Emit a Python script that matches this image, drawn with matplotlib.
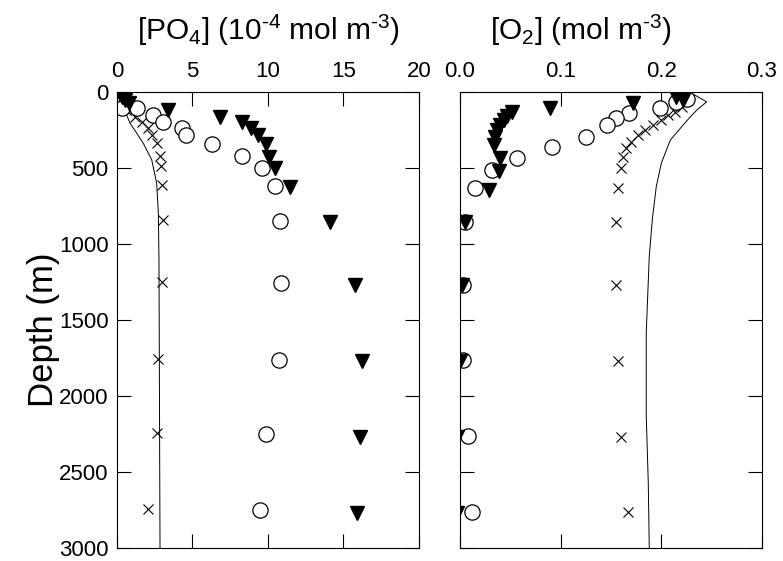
import numpy as np
import matplotlib
matplotlib.use("Agg")
import matplotlib.pyplot as plt

plt.rcParams['font.family'] = ['Liberation Sans', 'DejaVu Sans']
plt.rcParams['mathtext.fontset'] = 'custom'
plt.rcParams['mathtext.rm'] = 'Liberation Sans'
plt.rcParams['mathtext.it'] = 'Liberation Sans'

# ---- PO4 panel (10^-4 mol m^-3) ----
po4_tri_z = [10, 30, 50, 75, 120, 165, 200, 238, 282, 341, 425, 500, 624, 858, 1267, 1771, 2267, 2771]
po4_tri = [0.2, 0.3, 0.5, 0.8, 3.4, 6.8, 8.25, 8.9, 9.35, 9.9, 10.1, 10.45, 11.45, 14.1, 15.76, 16.2, 16.1, 15.9]
po4_circ_z = [105, 107, 151, 195, 238, 282, 343, 420, 501, 621, 847, 1256, 1760, 2252, 2751]
po4_circ = [0.3, 1.3, 2.4, 3.07, 4.28, 4.57, 6.27, 8.26, 9.58, 10.46, 10.8, 10.84, 10.7, 9.87, 9.47]
po4_x_z = [120, 162, 195, 238, 282, 337, 420, 490, 615, 840, 1252, 1755, 2245, 2744]
po4_x = [0.6, 1.2, 1.63, 2.07, 2.3, 2.63, 2.85, 2.91, 2.96, 3.07, 2.96, 2.74, 2.63, 2.07]
po4_line_z = [10, 70, 130, 205, 270, 337, 446, 600, 797, 1100, 1600, 2200, 3000]
po4_line = [0.15, 0.3, 0.55, 0.86, 1.3, 1.74, 2.3, 2.63, 2.74, 2.78, 2.8, 2.82, 2.85]

# ---- O2 panel (mol m^-3) ----
o2_tri_z = [30, 52, 74, 107, 129, 157, 184, 217, 249, 293, 348, 435, 523, 643, 858, 1267, 1771, 2270, 2770]
o2_tri = [0.215, 0.222, 0.172, 0.089, 0.052, 0.047, 0.044, 0.040, 0.037, 0.035, 0.034, 0.040, 0.039, 0.029, 0.005, 0.002, 0.0, -0.003, -0.003]
o2_circ_z = [48, 64, 107, 140, 173, 217, 293, 359, 435, 512, 632, 858, 1267, 1760, 2262, 2766]
o2_circ = [0.225, 0.215, 0.199, 0.168, 0.155, 0.146, 0.125, 0.091, 0.057, 0.032, 0.015, 0.005, 0.003, 0.003, 0.008, 0.012]
o2_x_z = [55, 96, 129, 151, 184, 217, 249, 282, 326, 370, 425, 501, 632, 858, 1267, 1771, 2267, 2766]
o2_x = [0.225, 0.221, 0.214, 0.207, 0.200, 0.192, 0.184, 0.177, 0.170, 0.165, 0.162, 0.160, 0.157, 0.155, 0.155, 0.157, 0.160, 0.167]
o2_line_z = [0, 65, 120, 184, 315, 468, 621, 840, 1080, 1584, 2130, 2567, 3000]
o2_line = [0.228, 0.245, 0.235, 0.226, 0.209, 0.200, 0.195, 0.191, 0.188, 0.185, 0.185, 0.187, 0.188]

fig = plt.figure(figsize=(7.83, 5.61), dpi=100)
ax1 = fig.add_axes([0.1494, 0.0232, 0.3857, 0.8128])
ax2 = fig.add_axes([0.5875, 0.0232, 0.3857, 0.8128])

def style(ax, xticks, xlabels):
    ax.set_ylim(3000, 0)
    ax.set_yticks(np.arange(0, 3001, 500))
    ax.set_xticks(xticks)
    ax.set_xticklabels(xlabels)
    ax.xaxis.tick_top()
    ax.tick_params(axis="both", direction="in", length=10, width=0.8,
                   top=True, bottom=True, left=True, right=True, labelsize=16)
    ax.tick_params(axis="x", pad=7)
    ax.tick_params(axis="y", pad=6)
    for s in ax.spines.values():
        s.set_linewidth(0.8)

mk = dict(linestyle="none", color="black", clip_on=True)
ax1.plot(po4_line, po4_line_z, color="black", lw=0.7)
ax1.plot(po4_x, po4_x_z, marker="x", ms=7, mew=0.8, **mk)
ax1.plot(po4_circ, po4_circ_z, marker="o", ms=11, mfc="white", mew=0.9, **mk)
ax1.plot(po4_tri, po4_tri_z, marker="v", ms=10.5, **mk)
ax1.set_xlim(0, 20)
style(ax1, [0, 5, 10, 15, 20], ["0", "5", "10", "15", "20"])

ax2.plot(o2_line, o2_line_z, color="black", lw=0.7)
ax2.plot(o2_x, o2_x_z, marker="x", ms=7, mew=0.8, **mk)
ax2.plot(o2_circ, o2_circ_z, marker="o", ms=11, mfc="white", mew=0.9, **mk)
ax2.plot(o2_tri, o2_tri_z, marker="v", ms=10.5, **mk)
ax2.set_xlim(0, 0.3)
style(ax2, [0, 0.1, 0.2, 0.3], ["0.0", "0.1", "0.2", "0.3"])
ax2.set_yticklabels([])

fig.text(43 / 783, 1 - 330 / 561, "Depth (m)", rotation=90, ha="center", va="center", fontsize=25)
fig.text(269 / 783, 1 - 30 / 561, "[PO$_4$] (10$^{\u20104}$ mol m$^{\u20103}$)",
         ha="center", va="center", fontsize=21.5)
fig.text(581 / 783, 1 - 30 / 561, "[O$_2$] (mol m$^{\u20103}$)",
         ha="center", va="center", fontsize=21.5)

fig.savefig("out.png", dpi=100)
